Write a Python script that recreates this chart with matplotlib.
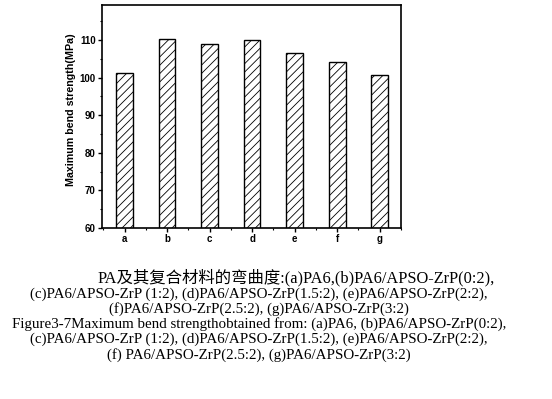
import numpy as np
import matplotlib
matplotlib.use("Agg")
import matplotlib.pyplot as plt
from matplotlib.ticker import MultipleLocator

# data
samples = ["a", "b", "c", "d", "e", "f", "g"]
strength = [101.3, 110.3, 108.8, 110.0, 106.5, 104.1, 100.8]
y_ticks = [60, 70, 80, 90, 100, 110]

caption_cn = "PA及其复合材料的弯曲度:(a)PA6,(b)PA6/APSO-ZrP(0:2),"
caption_lines = [
    "(c)PA6/APSO-ZrP (1:2), (d)PA6/APSO-ZrP(1.5:2), (e)PA6/APSO-ZrP(2:2),",
    "(f)PA6/APSO-ZrP(2.5:2), (g)PA6/APSO-ZrP(3:2)",
    "Figure3-7Maximum bend strengthobtained from: (a)PA6, (b)PA6/APSO-ZrP(0:2),",
    "(c)PA6/APSO-ZrP (1:2), (d)PA6/APSO-ZrP(1.5:2), (e)PA6/APSO-ZrP(2:2),",
    "(f) PA6/APSO-ZrP(2.5:2), (g)PA6/APSO-ZrP(3:2)",
]

plt.rcParams['hatch.linewidth'] = 0.6

fig = plt.figure(figsize=(5.52, 3.99), dpi=100)
ax = fig.add_axes([0.1848, 0.4286, 0.5417, 0.559])

x = np.arange(len(samples))
ax.bar(x, strength, width=0.39, bottom=0, color="white", edgecolor="black",
       linewidth=1.0, hatch="////")

ax.set_xlim(-0.53, 6.5)
ax.set_ylim(60, 119.3)
ax.set_xticks(x)
ax.set_xticklabels(samples, fontsize=7, fontweight="bold", family="Liberation Sans")
ax.set_yticks(y_ticks)
ax.set_yticklabels([str(v) for v in y_ticks], fontsize=7, fontweight="bold",
                   family="Liberation Sans")
ax.xaxis.set_minor_locator(MultipleLocator(0.5))
ax.yaxis.set_minor_locator(MultipleLocator(5))
ax.tick_params(which="major", direction="out", length=3, width=1, pad=1.5)
ax.tick_params(which="minor", direction="out", length=1.5, width=0.8)
ax.set_ylabel("Maximum bend strength(MPa)", fontsize=7.7, fontweight="bold",
              family="Liberation Sans")
ax.yaxis.set_label_coords(-0.087, 0.53)
for s in ax.spines.values():
    s.set_linewidth(1.2)

serif = ["Liberation Serif", "Noto Sans CJK SC"]
fig.text(97 / 552, 1 - 278 / 399, caption_cn, ha="left", va="center",
         fontsize=11.8, family=serif)
ys = [294, 309, 324, 339, 355]
for line, y in zip(caption_lines, ys):
    fig.text(259 / 552, 1 - y / 399, line, ha="center", va="center",
             fontsize=10.8, family=serif)

fig.savefig("out.png", dpi=100)
